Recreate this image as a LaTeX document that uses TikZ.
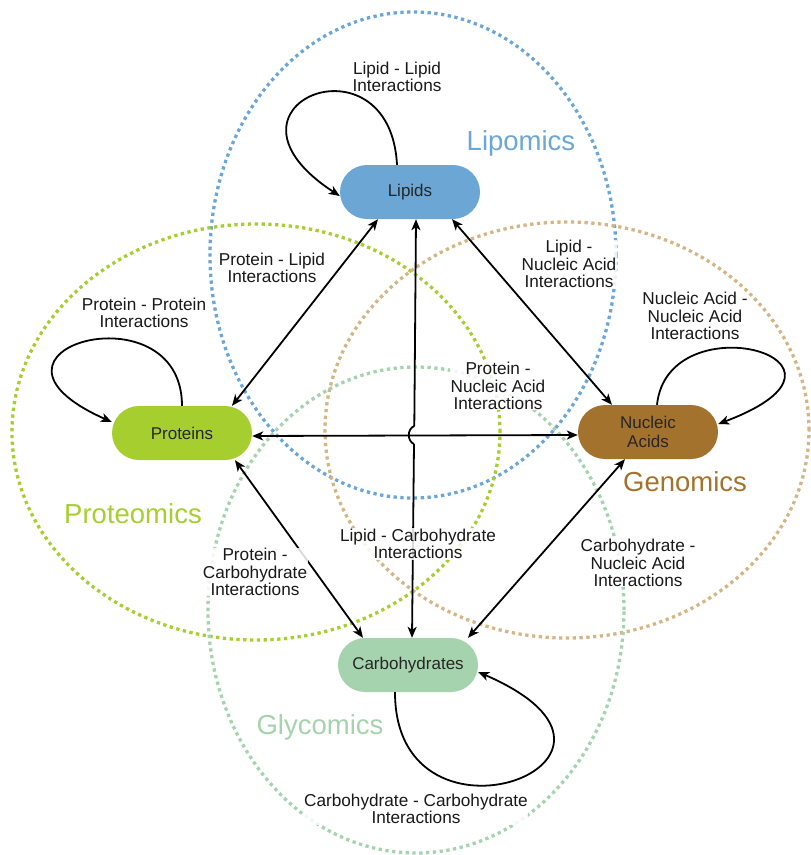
\documentclass[tikz,border=0pt]{standalone}
\usepackage{fontspec}
\setmainfont{Liberation Sans}
\usetikzlibrary{arrows.meta,calc}
\definecolor{cblue}{HTML}{6BA6D5}
\definecolor{cprot}{HTML}{A6CE2E}
\definecolor{cnuc}{HTML}{A3732E}
\definecolor{ctan}{HTML}{D4B686}
\definecolor{ccarb}{HTML}{A5D3AE}
\tikzset{
  dotring/.style={line width=3.3pt, dash pattern=on 3.3pt off 3.5pt},
  entity/.style={rounded corners=27pt, minimum width=140pt, minimum height=54pt,
    font=\fontsize{17}{18.5}\selectfont, text=black!85, align=center, inner sep=0pt},
  lbl/.style={font=\fontsize{17.2}{17.6}\selectfont, align=center, fill=white,
    fill opacity=0.85, text opacity=1, inner sep=0.5pt, text=black!90},
  omics/.style={font=\fontsize{27.5}{30}\selectfont},
  tip/.tip={Stealth[length=11pt,width=9pt,inset=3pt]},
  link/.style={line width=1.8pt, tip-tip},
  selfloop/.style={line width=1.8pt, -tip},
  plain/.style={line width=1.8pt}
}
\begin{document}
\begin{tikzpicture}[x=1pt,y=-1pt]
\useasboundingbox (0,0) rectangle (811,855);
% omics rings
\draw[dotring, cblue] (413,255) ellipse [x radius=203pt, y radius=243pt];
\draw[dotring, cprot] (256,432) ellipse [x radius=244pt, y radius=208pt];
\draw[dotring, ctan] (567,430) ellipse [x radius=242pt, y radius=208pt];
\draw[dotring, ccarb] (416,610) ellipse [x radius=208pt, y radius=243pt];
% omics titles
\node[omics, text=cblue] (tlip) at (521,143) {Lipomics};
\node[omics, text=cprot] (tprot) at (133,514) {Proteomics};
\node[omics, text=cnuc] (tgen) at (685,482) {Genomics};
\node[omics, text=ccarb] (tgly) at (320,727) {Glycomics};
% entities
\node[entity, fill=cblue] (lip) at (410,192) {Lipids};
\node[entity, fill=cprot] (prot) at (182,433) {Proteins};
\node[entity, fill=cnuc] (nuc) at (648,432) {Nucleic\\Acids};
\node[entity, fill=ccarb] (carb) at (408,665) {Carbohydrates};
% pairwise links
\draw[link] ([xshift=50pt]prot.north) -- ([xshift=-32pt]lip.south);
\draw[link] ([xshift=42pt]lip.south) -- ([xshift=-36pt]nuc.north);
\draw[link] ([yshift=-3pt]prot.east) -- ([yshift=-3pt]nuc.west);
\draw[link] ([xshift=53pt]prot.south) -- ([xshift=-45pt]carb.north);
\draw[link] ([xshift=-23pt]nuc.south) -- ([xshift=60pt]carb.north);
% vertical link with a jump over the horizontal one
\coordinate (j1) at (414.3,426);
\coordinate (j2) at (414.0,444);
\draw[line width=1.8pt, tip-] ([xshift=6pt]lip.south) -- (j1);
\draw[plain] (j1) .. controls (407,429) and (407,441) .. (j2);
\draw[line width=1.8pt, -tip] (j2) -- ([xshift=4pt]carb.north);
% self loops
\draw[selfloop] ([xshift=-13pt]lip.north) .. controls (390,30) and (200,105) .. ([yshift=-4pt]lip.west);
\draw[selfloop] (prot.north) .. controls (182,285) and (-50,350) .. ([yshift=11pt]prot.west);
\draw[selfloop] ([xshift=9pt]nuc.north) .. controls (668,300) and (888,360) .. ([yshift=8pt]nuc.east);
\draw[selfloop] ([xshift=-13pt]carb.south) .. controls (395,866) and (682,760) .. ([yshift=-7pt]carb.east);
% interaction labels
\node[lbl] (llip) at (397,77) {Lipid - Lipid\\Interactions};
\node[lbl] (lprotlip) at (272,268) {Protein - Lipid\\Interactions};
\node[lbl] (llipnuc) at (569,264) {Lipid -\\Nucleic Acid\\Interactions};
\node[lbl] (lprot) at (144,313) {Protein - Protein\\Interactions};
\node[lbl] (lnuc) at (695,316) {Nucleic Acid -\\Nucleic Acid\\Interactions};
\node[lbl] (lprotnuc) at (498,386) {Protein -\\Nucleic Acid\\Interactions};
\node[lbl] (llipcarb) at (418,544) {Lipid - Carbohydrate\\Interactions};
\node[lbl] (lprotcarb) at (255,572) {Protein -\\Carbohydrate\\Interactions};
\node[lbl] (lcarbnuc) at (638,563) {Carbohydrate -\\Nucleic Acid\\Interactions};
\node[lbl] (lcarb) at (416,809) {Carbohydrate - Carbohydrate\\Interactions};
\end{tikzpicture}
\end{document}
